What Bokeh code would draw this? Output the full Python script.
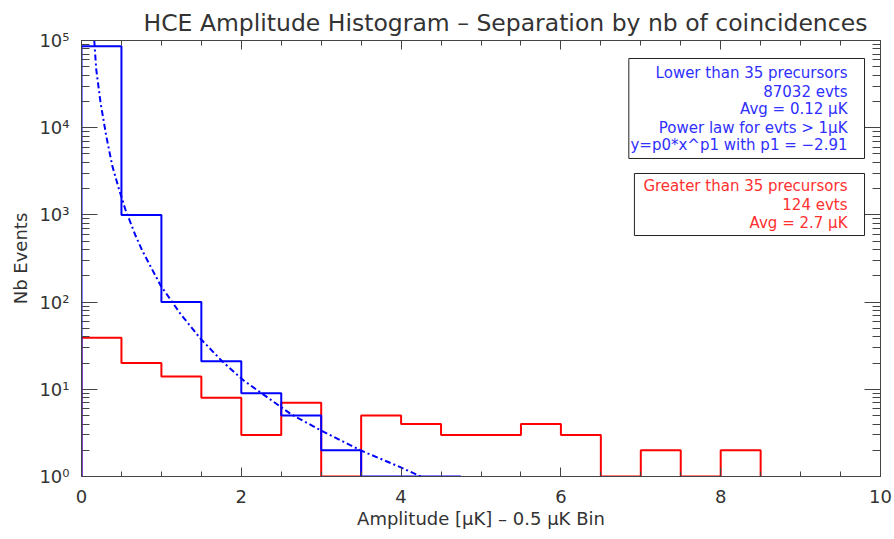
from bokeh.plotting import figure
from bokeh.models import (Range1d, LinearAxis, LogAxis, FixedTicker, BoxAnnotation, Label,
                          CustomJSTickFormatter)
from bokeh.embed import file_html
from bokeh.resources import INLINE

# ---------------- data ----------------
bin_width = 0.5
blue_counts = [86000, 1000, 100, 21, 9, 5, 2, 0, 0, 0]          # bins 0..4.75
blue_last_edge = 4.75
red_counts = [39, 20, 14, 8, 3, 7, 0, 5, 4, 3, 3, 4, 3, 0, 2, 0, 2]  # bins 0..8.5

fit_x = [0.16, 0.184, 0.238, 0.309, 0.384, 0.467, 0.55, 0.676, 0.76, 0.99,
         1.24, 1.49, 1.76, 2.03, 2.24, 2.62, 2.99, 3.49, 3.99, 4.3]
fit_y = [100000, 47000, 19500, 8100, 3700, 2000, 1150, 580, 390, 155,
         73, 38, 21, 12.6, 9.2, 5.2, 3.4, 2.0, 1.28, 0.95]

x_ticks = [0, 2, 4, 6, 8, 10]
y_ticks = [1, 10, 100, 1000, 10000, 100000]
y_tick_labels = ["10⁰", "10¹", "10²", "10³", "10⁴", "10⁵"]

blue_text = ["Lower than 35 precursors", "87032 evts", "Avg = 0.12 μK",
             "Power law for evts > 1μK", "y=p0*x^p1 with p1 = −2.91"]
red_text = ["Greater than 35 precursors", "124 evts", "Avg = 2.7 μK"]

Y_MIN, Y_MAX = 1, 1e5
X_MIN, X_MAX = 0, 10

def step_path(counts, last_edge=None):
    edges = [i * bin_width for i in range(len(counts) + 1)]
    if last_edge is not None:
        edges[-1] = last_edge
    xs, ys = [edges[0]], [Y_MIN]
    for i, c in enumerate(counts):
        v = max(c, Y_MIN)
        xs += [edges[i], edges[i + 1]]
        ys += [v, v]
    xs.append(edges[-1]); ys.append(Y_MIN)
    return xs, ys

TXT = "#333333"
FONT = "DejaVu Sans"

p = figure(width=894, height=539, y_axis_type="log",
           x_range=Range1d(X_MIN, X_MAX), y_range=Range1d(Y_MIN, Y_MAX),
           output_backend="svg", toolbar_location=None,
           min_border_left=81, min_border_right=14, min_border_top=40, min_border_bottom=63)
p.outline_line_color = None
p.xgrid.visible = False
p.ygrid.visible = False
p.background_fill_color = "white"
p.border_fill_color = "white"

p.title.text = "HCE Amplitude Histogram – Separation by nb of coincidences"
p.title.text_font = FONT
p.title.text_font_size = "23.5px"
p.title.text_font_style = "normal"
p.title.text_color = TXT
p.title.align = "left"
p.title.offset = 62
p.title.standoff = 8

x_minor = [i * bin_width for i in range(int(X_MAX / bin_width) + 1)]
y_minor = [m * d for d in y_ticks[:-1] for m in range(2, 10)]

blank = CustomJSTickFormatter(code="return ''")

def style_common(ax, labels):
    ax.axis_line_color = "#444444"
    ax.major_tick_line_color = "#444444"
    ax.minor_tick_line_color = "#444444"
    ax.major_label_text_font = FONT
    if labels:
        ax.major_label_text_font_size = "18px"
        ax.major_label_text_color = TXT
    else:
        ax.formatter = blank
        ax.major_label_text_font_size = "1px"
        ax.major_label_text_color = None
        ax.major_label_standoff = 0

def style_x(ax, labels=True):
    ax.ticker = FixedTicker(ticks=x_ticks, minor_ticks=x_minor)
    ax.major_tick_in = 9; ax.major_tick_out = 0
    ax.minor_tick_in = 5; ax.minor_tick_out = 0
    style_common(ax, labels)
    if labels:
        ax.major_label_standoff = 13

def style_y(ax, labels=True):
    ax.ticker = FixedTicker(ticks=y_ticks, minor_ticks=y_minor)
    ax.major_tick_in = 16; ax.major_tick_out = 0
    ax.minor_tick_in = 8; ax.minor_tick_out = 0
    style_common(ax, labels)
    if labels:
        ax.major_label_standoff = 12
        ax.major_label_overrides = {t: l for t, l in zip(y_ticks, y_tick_labels)}

style_x(p.xaxis[0])
style_y(p.yaxis[0])
p.xaxis[0].axis_label = "Amplitude [μK] – 0.5 μK Bin"
p.yaxis[0].axis_label = "Nb Events"
for ax in (p.xaxis[0], p.yaxis[0]):
    ax.axis_label_text_font = FONT
    ax.axis_label_text_font_size = "18px"
    ax.axis_label_text_font_style = "normal"
    ax.axis_label_text_color = TXT
p.xaxis[0].axis_label_standoff = 2
p.yaxis[0].axis_label_standoff = 5

top_ax = LinearAxis()
style_x(top_ax, labels=False)
p.add_layout(top_ax, "above")
right_ax = LogAxis()
style_y(right_ax, labels=False)
p.add_layout(right_ax, "right")

rx, ry = step_path(red_counts)
p.line(rx, ry, line_color="#ff0000", line_width=2)
bx, by = step_path(blue_counts, blue_last_edge)
p.line(bx, by, line_color="#0000ff", line_width=2)
p.line(fit_x, fit_y, line_color="#0000ff", line_width=2, line_dash="6 3 2 3")

# legend boxes (text annotations)
p.add_layout(BoxAnnotation(left=6.85, right=9.80, top=62200, bottom=4436,
                           fill_alpha=0, line_color="#222222", line_alpha=1, line_width=1))
p.add_layout(BoxAnnotation(left=6.92, right=9.80, top=2985, bottom=580,
                           fill_alpha=0, line_color="#222222", line_alpha=1, line_width=1))
blue_y = [41900, 26000, 16180, 10050, 6250]
red_y = [2117, 1316, 818]
for t, yy in zip(blue_text, blue_y):
    p.add_layout(Label(x=9.587, y=yy, text=t, text_align="right", text_baseline="middle",
                       text_font=FONT, text_font_size="15px", text_color="#3030ff"))
for t, yy in zip(red_text, red_y):
    p.add_layout(Label(x=9.587, y=yy, text=t, text_align="right", text_baseline="middle",
                       text_font=FONT, text_font_size="15px", text_color="#ff3030"))

open("out.html", "w").write(file_html(p, INLINE))
